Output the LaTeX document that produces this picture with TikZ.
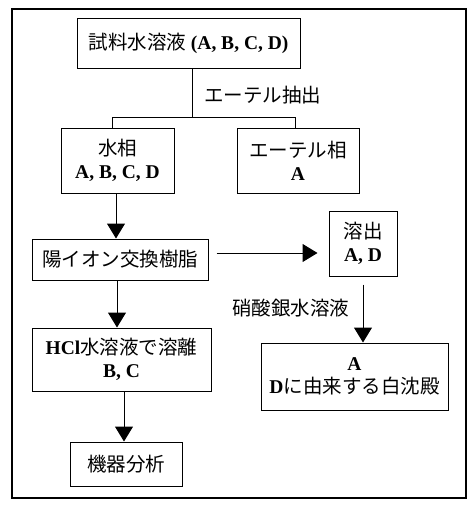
\documentclass[tikz,border=0pt]{standalone}
\usepackage{fontspec}
\setmainfont{Liberation Serif}
\newfontfamily\cjk{Noto Sans CJK JP}
\usetikzlibrary{arrows.meta}
\tikzset{
  box/.style={draw, line width=1pt, inner sep=0pt, align=center, font=\fontsize{19.5}{23}\selectfont},
  lbl/.style={inner sep=0pt, font=\cjk\fontsize{19.5}{23}\selectfont},
  conn/.style={line width=1pt},
  arr/.style={line width=1pt, -{Triangle[width=18pt,length=15pt]}}
}
\begin{document}
\begin{tikzpicture}[x=1pt,y=-1pt]
\useasboundingbox (0,0) rectangle (470,506);
\fill[white] (0,0) rectangle (470,506);
\draw[line width=1.2pt] (12,9) rectangle (466,498);
% boxes
\node[box, minimum width=223pt, minimum height=50pt] (top) at (188.5,43)
  {{\cjk 試料水溶液}\textbf{ (A, B, C, D)}};
\node[box, minimum width=113pt, minimum height=65pt] (water) at (117.5,160.5)
  {{\cjk 水相}\\\textbf{A, B, C, D}};
\node[box, minimum width=122pt, minimum height=65pt] (ether) at (298,160.5)
  {{\cjk エーテル相}\\\textbf{A}};
\node[box, minimum width=176pt, minimum height=41pt] (cation) at (120,259.5)
  {{\cjk 陽イオン交換樹脂}};
\node[box, minimum width=68pt, minimum height=65pt] (elute) at (363,243.5)
  {{\cjk 溶出}\\\textbf{A, D}};
\node[box, minimum width=179pt, minimum height=63pt] (hcl) at (121.5,359.5)
  {\textbf{HCl}{\cjk 水溶液で溶離}\\\textbf{B, C}};
\node[box, minimum width=112pt, minimum height=44pt] (instr) at (126,464)
  {{\cjk 機器分析}};
\node[box, minimum width=187pt, minimum height=67pt] (result) at (354.5,376.5)
  {\textbf{A}\\\textbf{D}{\cjk に由来する白沈殿}};
% labels
\node[lbl] (ext) at (262.5,95) {エーテル抽出};
\node[lbl] (agno) at (290.5,308) {硝酸銀水溶液};
% splitting connector
\coordinate (split) at (192,117);
\coordinate (wl) at (112,117);
\coordinate (er) at (295,117);
\draw[conn] (top.south -| split) -- (split);
\draw[conn] (wl |- water.north) -- (wl) -- (er) -- (er |- ether.north);
% arrows
\draw[arr] ([xshift=-1.5pt]water.south) -- ([xshift=-1.5pt]water.south |- cation.north);
\draw[arr] ([xshift=-3pt]cation.south) -- ([xshift=-3pt]cation.south |- hcl.north);
\draw[arr] ([xshift=2.5pt]hcl.south) -- ([xshift=2.5pt]hcl.south |- instr.north);
\coordinate (hy) at (0,253);
\draw[arr, shorten <=8pt, shorten >=11pt] (cation.east |- hy) -- (elute.west |- hy);
\draw[arr, shorten <=8pt] (elute.south) -- (elute.south |- result.north);
\end{tikzpicture}
\end{document}
